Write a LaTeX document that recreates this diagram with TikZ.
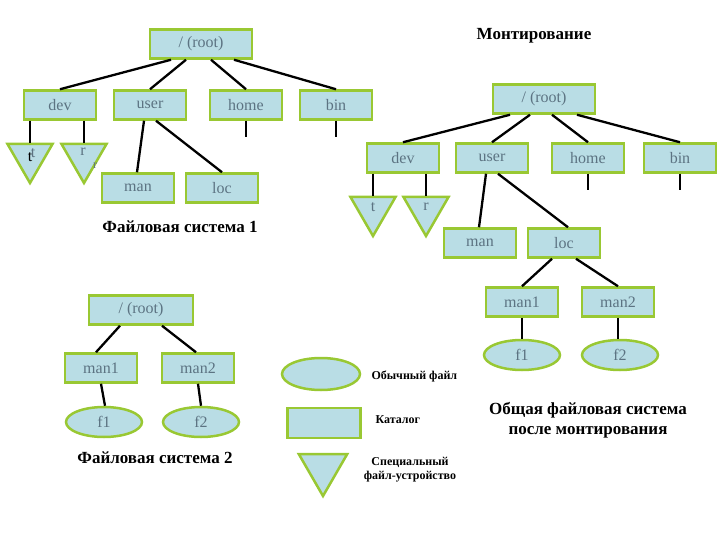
\documentclass[tikz,border=0pt]{standalone}
\usepackage{fontspec}
\setmainfont{Liberation Serif}
\usetikzlibrary{shapes.geometric}
\definecolor{fillb}{HTML}{B9DDE5}
\definecolor{bord}{HTML}{99C833}
\definecolor{txt}{HTML}{5C7382}
\begin{document}
\begin{tikzpicture}[x=1pt,y=-1pt,
  dir/.style={draw=bord,line width=2.5pt,fill=fillb,minimum width=72pt,minimum height=29pt,inner sep=0pt,text=txt,font=\fontsize{16}{18}\selectfont},
  rootbox/.style={dir,minimum width=102pt},
  fil/.style={draw=bord,line width=2.5pt,fill=fillb,ellipse,minimum width=76pt,minimum height=30pt,inner sep=0pt,text=txt,font=\fontsize{16}{18}\selectfont},
  spec/.style={draw=bord,line width=2.5pt,fill=fillb,regular polygon,regular polygon sides=3,shape border rotate=180,minimum size=52pt,inner sep=0pt},
  lbl/.style={text=txt,font=\fontsize{16}{18}\selectfont},
  conn/.style={line width=2.3pt,black},
  capt/.style={font=\bfseries\fontsize{17}{20}\selectfont},
  leg/.style={font=\bfseries\fontsize{12}{14}\selectfont}]
\useasboundingbox (0,0) rectangle (720,540);
% FS1
\node[rootbox] (r1) at (201,44) {/ (root)};
\node[dir] (dev1) at (60,105) {dev};
\node[dir] (user1) at (150,105) {user};
\node[dir] (home1) at (246,105) {home};
\node[dir] (bin1) at (336,105) {bin};
\node[spec] (t1) at (30,157) {};
\node[spec] (rr1) at (84,157) {};
\node[lbl,text=black] at (30,157) {t};
\node[lbl] at (33,153) {t};
\node[lbl] at (83,152) {r};
\node[lbl,font=\fontsize{12}{14}\selectfont] at (95,166) {r};
\node[dir] (man1) at (138,188) {man};
\node[dir] (loc1) at (222,188) {loc};
\coordinate (hs1) at (246,137);
\coordinate (bs1) at (336,137);
\draw[conn] ([xshift=-30pt]r1.south) -- (dev1.north);
\draw[conn] ([xshift=-15pt]r1.south) -- (user1.north);
\draw[conn] ([xshift=10pt]r1.south) -- (home1.north);
\draw[conn] ([xshift=33pt]r1.south) -- (bin1.north);
\draw[conn] ([xshift=-30pt]dev1.south) -- (t1.north);
\draw[conn] ([xshift=24pt]dev1.south) -- (rr1.north);
\draw[conn] (home1.south) -- (hs1);
\draw[conn] (bin1.south) -- (bs1);
\draw[conn] ([xshift=-6pt]user1.south) -- ([xshift=-1pt]man1.north);
\draw[conn] ([xshift=6pt]user1.south) -- (loc1.north);
\node[capt] (c1) at (180,227) {Файловая система 1};
% merged
\node[capt] (mt) at (534,36) {Монтирование};
\node[rootbox] (r3) at (544,99) {/ (root)};
\node[dir] (dev3) at (403,158) {dev};
\node[dir] (user3) at (492,158) {user};
\node[dir] (home3) at (588,158) {home};
\node[dir] (bin3) at (680,158) {bin};
\node[spec] (t3) at (373,210) {};
\node[spec] (rr3) at (426,210) {};
\node[lbl] at (373,207) {t};
\node[lbl] at (426,207) {r};
\node[dir] (man3) at (480,243) {man};
\node[dir] (loc3) at (564,243) {loc};
\node[dir] (m13) at (522,302) {man1};
\node[dir] (m23) at (618,302) {man2};
\node[fil] (f13) at (522,355) {f1};
\node[fil] (f23) at (620,355) {f2};
\coordinate (hs3) at (588,190);
\coordinate (bs3) at (680,190);
\draw[conn] ([xshift=-34pt]r3.south) -- (dev3.north);
\draw[conn] ([xshift=-14pt]r3.south) -- (user3.north);
\draw[conn] ([xshift=8pt]r3.south) -- (home3.north);
\draw[conn] ([xshift=33pt]r3.south) -- (bin3.north);
\draw[conn] ([xshift=-30pt]dev3.south) -- (t3.north);
\draw[conn] ([xshift=23pt]dev3.south) -- (rr3.north);
\draw[conn] (home3.south) -- (hs3);
\draw[conn] (bin3.south) -- (bs3);
\draw[conn] ([xshift=-6pt]user3.south) -- ([xshift=-1pt]man3.north);
\draw[conn] ([xshift=6pt]user3.south) -- ([xshift=4pt]loc3.north);
\draw[conn] ([xshift=-12pt]loc3.south) -- (m13.north);
\draw[conn] ([xshift=12pt]loc3.south) -- (m23.north);
\draw[conn] (m13.south) -- (f13.north);
\draw[conn] (m23.south) -- ([xshift=-2pt]f23.north);
\node[capt,align=center] (c3) at (588,420) {Общая файловая система\\после монтирования};
% FS2
\node[rootbox,minimum width=104pt] (r2) at (141,310) {/ (root)};
\node[dir] (m12) at (101,368) {man1};
\node[dir] (m22) at (198,368) {man2};
\node[fil] (f12) at (104,422) {f1};
\node[fil] (f22) at (201,422) {f2};
\draw[conn] ([xshift=-21pt]r2.south) -- ([xshift=-5pt]m12.north);
\draw[conn] ([xshift=21pt]r2.south) -- ([xshift=-2pt]m22.north);
\draw[conn] (m12.south) -- ([xshift=1pt]f12.north);
\draw[conn] (m22.south) -- (f22.north);
\node[capt] (c2) at (155,458) {Файловая система 2};
% legend
\node[fil,minimum width=78pt,minimum height=32pt] (le) at (321,374) {};
\node[leg,anchor=west] (lt1) at (368,376) {Обычный файл};
\node[dir,minimum width=73pt,minimum height=30pt] (lr) at (324,423) {};
\node[leg,anchor=west] (lt2) at (372,420) {Каталог};
\node[spec,minimum size=56pt] (ls) at (323,468) {};
\node[leg,align=center] (lt3) at (410,470) {Специальный\\файл-устройство};
\end{tikzpicture}
\end{document}
